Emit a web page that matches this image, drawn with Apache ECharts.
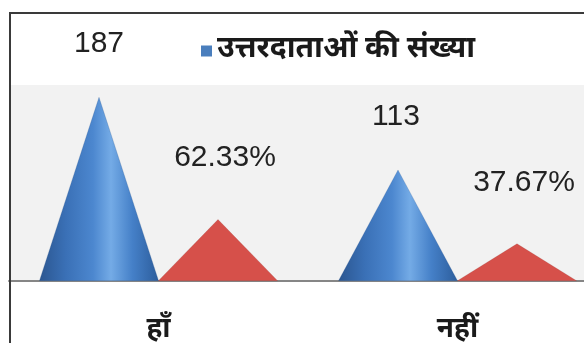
<!DOCTYPE html>
<html>
<head>
<meta charset="utf-8">
<script src="https://cdn.jsdelivr.net/npm/echarts@6/dist/echarts.min.js"></script>
<style>
  html, body { margin: 0; padding: 0; background: #fff; overflow: hidden; }
  #wrap { position: relative; width: 584px; height: 343px; overflow: hidden; }
  #chart { position: absolute; left: 0; top: 0; width: 610px; height: 343px; }
  #frame { position: absolute; left: 9px; top: 12px; width: 640px; height: 400px;
           border-left: 2px solid #3a3a3a; border-top: 2px solid #3a3a3a; pointer-events: none; }
</style>
</head>
<body>
<div id="wrap">
  <div id="chart"></div>
  <div id="frame"></div>
</div>
<script>
// Survey answers: yes / no
const categories = ['हाँ', 'नहीं'];
const countName = 'उत्तरदाताओं की संख्या';
const countValues = [187, 113];
const percentName = 'प्रतिशत';
const percentValues = [62.33, 37.67];

// horizontal nudges of the value labels (px)
const countLabelShift = [0, -2];
const percentLabelShift = [7, 7];

const labelFont = "'Liberation Sans', 'Open Sans', sans-serif";
const hindiFont = "'Noto Sans Devanagari', 'Lohit Devanagari', 'Noto Sans', sans-serif";

// the plot runs on past the right edge of the visible frame
const chart = echarts.init(document.getElementById('chart'), null, { renderer: 'canvas' });

const coneFill = new echarts.graphic.LinearGradient(0, 0, 1, 0, [
  { offset: 0, color: '#2b5690' },
  { offset: 0.22, color: '#3a70b6' },
  { offset: 0.45, color: '#4c87cf' },
  { offset: 0.6, color: '#74abe6' },
  { offset: 0.78, color: '#4580c8' },
  { offset: 1, color: '#2c5d9c' }
]);

const countData = countValues.map((v, i) => ({
  value: v,
  label: { offset: [countLabelShift[i], 0] }
}));
const percentData = percentValues.map((v, i) => ({
  value: v,
  label: { offset: [percentLabelShift[i], 0] }
}));

chart.setOption({
  animation: false,
  backgroundColor: '#ffffff',
  legend: {
    data: [{ name: countName, itemStyle: { color: '#4a7ebd', borderWidth: 0 } }],
    left: 196,
    top: 31,
    icon: 'rect',
    itemWidth: 11,
    itemHeight: 11,
    itemGap: 3,
    textStyle: { fontFamily: hindiFont, fontSize: 30, fontWeight: 'bold', color: '#1a1a1a' }
  },
  grid: {
    left: 9,
    width: 598,
    top: 85,
    bottom: 62,
    outerBoundsMode: 'none',
    containLabel: false,
    show: true,
    backgroundColor: '#f2f2f2',
    borderWidth: 0
  },
  xAxis: {
    type: 'category',
    data: categories,
    axisLine: { show: true, lineStyle: { color: '#868686', width: 2 } },
    axisTick: { show: false },
    axisLabel: { margin: 37, fontFamily: hindiFont, fontSize: 28, fontWeight: 'bold', color: '#1a1a1a' }
  },
  yAxis: {
    type: 'value',
    min: 0,
    max: 200,
    show: false,
    splitLine: { show: false }
  },
  series: [
    {
      name: countName,
      type: 'pictorialBar',
      symbol: 'triangle',
      symbolSize: ['100%', '100%'],
      barWidth: 119,
      barGap: '0%',
      data: countData,
      itemStyle: { color: coneFill, borderColor: '#274f85', borderWidth: 0.6 },
      label: {
        show: true, position: 'top', distance: 38,
        fontFamily: labelFont, fontSize: 30, color: '#222'
      }
    },
    {
      name: percentName,
      type: 'pictorialBar',
      symbol: 'triangle',
      symbolSize: ['100%', '100%'],
      barWidth: 119,
      barGap: '0%',
      data: percentData,
      itemStyle: { color: '#d6504a', borderColor: '#8c3532', borderWidth: 1 },
      label: {
        show: true, position: 'top', distance: 46,
        formatter: p => p.value.toFixed(2) + '%',
        fontFamily: labelFont, fontSize: 30, color: '#222'
      }
    }
  ]
});
</script>
</body>
</html>
